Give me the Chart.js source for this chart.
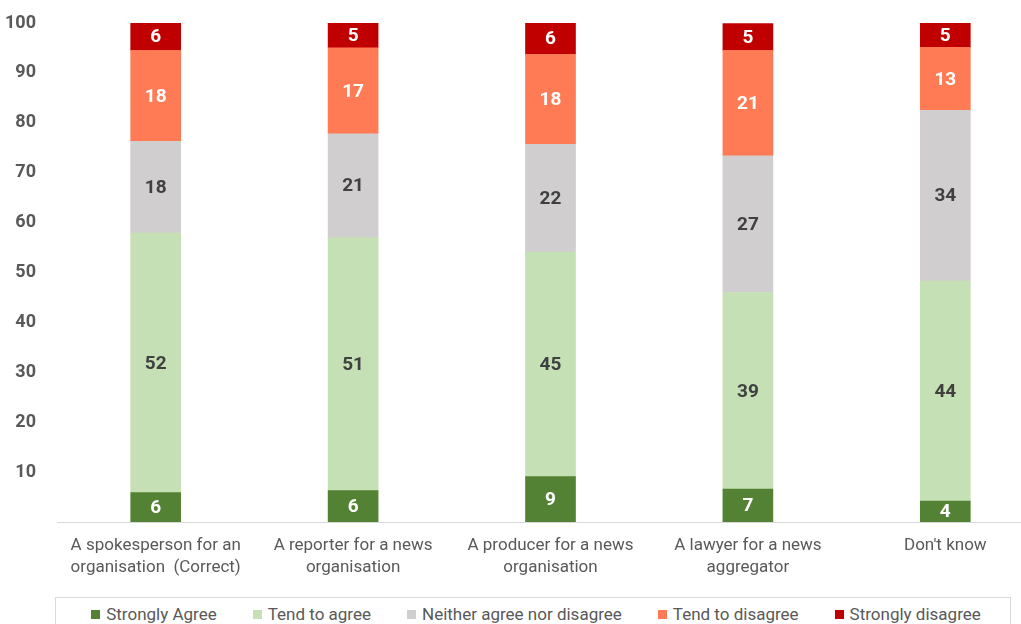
<!DOCTYPE html>
<html>
<head>
<meta charset="utf-8">
<script src="https://cdn.jsdelivr.net/npm/chart.js@4.4.1/dist/chart.umd.min.js"></script>
<style>
  html, body { margin: 0; padding: 0; background: #fff; overflow: hidden; width: 1021px; height: 624px; }
  #wrap { position: relative; width: 1044px; height: 595px; }
  #legend {
    position: absolute; left: 55px; top: 597px; width: 956px; height: 34px;
    border: 1px solid #d9d9d9; box-sizing: border-box;
    display: flex; justify-content: center; padding-left: 6px; padding-top: 6px;
    font-family: Roboto, "Noto Sans", sans-serif; font-size: 17px; color: #595959;
  }
  .item { display: flex; align-items: center; margin: 0 18px; height: 20px; white-space: nowrap; }
  .sw { width: 9px; height: 9px; margin-right: 6px; }
</style>
</head>
<body>
<div id="wrap"><canvas id="chart" width="1044" height="595"></canvas></div>
<div id="legend"></div>
<script>
// data
const categories = [
    ['A spokesperson for an', 'organisation  (Correct)'],
    ['A reporter for a news', 'organisation'],
    ['A producer for a news', 'organisation'],
    ['A lawyer for a news', 'aggregator'],
    "Don't know"
];
const seriesNames = ['Strongly Agree', 'Tend to agree', 'Neither agree nor disagree', 'Tend to disagree', 'Strongly disagree'];
const stronglyAgree = [5.9, 6.3, 9.1, 6.6, 4.2];
const tendToAgree = [52.0, 50.7, 45.0, 39.4, 44.1];
const neither = [18.4, 20.8, 21.6, 27.4, 34.2];
const tendToDisagree = [18.2, 17.2, 18.0, 21.1, 12.6];
const stronglyDisagree = [5.6, 5.0, 6.3, 5.4, 4.9];
const yTicks = [10, 20, 30, 40, 50, 60, 70, 80, 90, 100];

const colors = ['#548235', '#c5e0b4', '#d0cece', '#ff7b55', '#c00000'];
const labelColors = ['#ffffff', '#404040', '#404040', '#ffffff', '#ffffff'];
const allSeries = [stronglyAgree, tendToAgree, neither, tendToDisagree, stronglyDisagree];

// legend
let temp = "";
for (let i = 0; i < seriesNames.length; i++) {
    temp += `<div class='item'><div class='sw' style='background:${colors[i]}'></div>${seriesNames[i]}</div>`;
}
document.getElementById("legend").innerHTML = temp;

// value labels in the middle of each segment
const barLabels = {
    id: 'barLabels',
    afterDatasetsDraw(chart) {
        const ctx = chart.ctx;
        ctx.save();
        ctx.font = 'bold 19px Roboto';
        ctx.textAlign = 'center';
        ctx.textBaseline = 'middle';
        chart.data.datasets.forEach((ds, i) => {
            chart.getDatasetMeta(i).data.forEach((bar, j) => {
                const p = bar.getProps(['x', 'y', 'base'], true);
                ctx.fillStyle = labelColors[i];
                ctx.fillText(Math.round(ds.data[j]), p.x, (p.y + p.base) / 2 + 1);
            });
        });
        ctx.restore();
    }
};

const ctx = document.getElementById('chart').getContext('2d');
const myChart = new Chart(ctx, {
    type: 'bar',
    data: {
        labels: categories,
        datasets: allSeries.map((d, i) => ({
            label: seriesNames[i],
            data: d,
            backgroundColor: colors[i],
            barThickness: 50
        }))
    },
    options: {
        responsive: false,
        animation: false,
        layout: { padding: { top: 23, right: 0, bottom: 0, left: 0 } },
        plugins: {
            legend: { display: false },
            tooltip: { enabled: false }
        },
        scales: {
            x: {
                stacked: true,
                grid: { display: false, drawTicks: false },
                border: { display: true, color: '#d9d9d9', width: 1 },
                ticks: {
                    color: '#595959',
                    padding: 13,
                    maxRotation: 0,
                    autoSkip: false,
                    font: { family: 'Roboto', size: 17, lineHeight: 1.27 }
                },
                afterFit: s => { s.height = 73; }
            },
            y: {
                stacked: true,
                min: 0,
                max: 100,
                // hidden tick marks only push the labels left
                grid: { display: false, drawTicks: true, tickLength: 21, tickColor: 'rgba(0,0,0,0)' },
                border: { display: false },
                afterBuildTicks: s => { s.ticks = yTicks.map(v => ({ value: v })); },
                ticks: {
                    color: '#595959',
                    padding: 0,
                    font: { family: 'Roboto', size: 18, weight: 'bold' }
                },
                afterFit: s => { s.width = 57; }
            }
        }
    },
    plugins: [barLabels]
});
</script>
</body>
</html>
